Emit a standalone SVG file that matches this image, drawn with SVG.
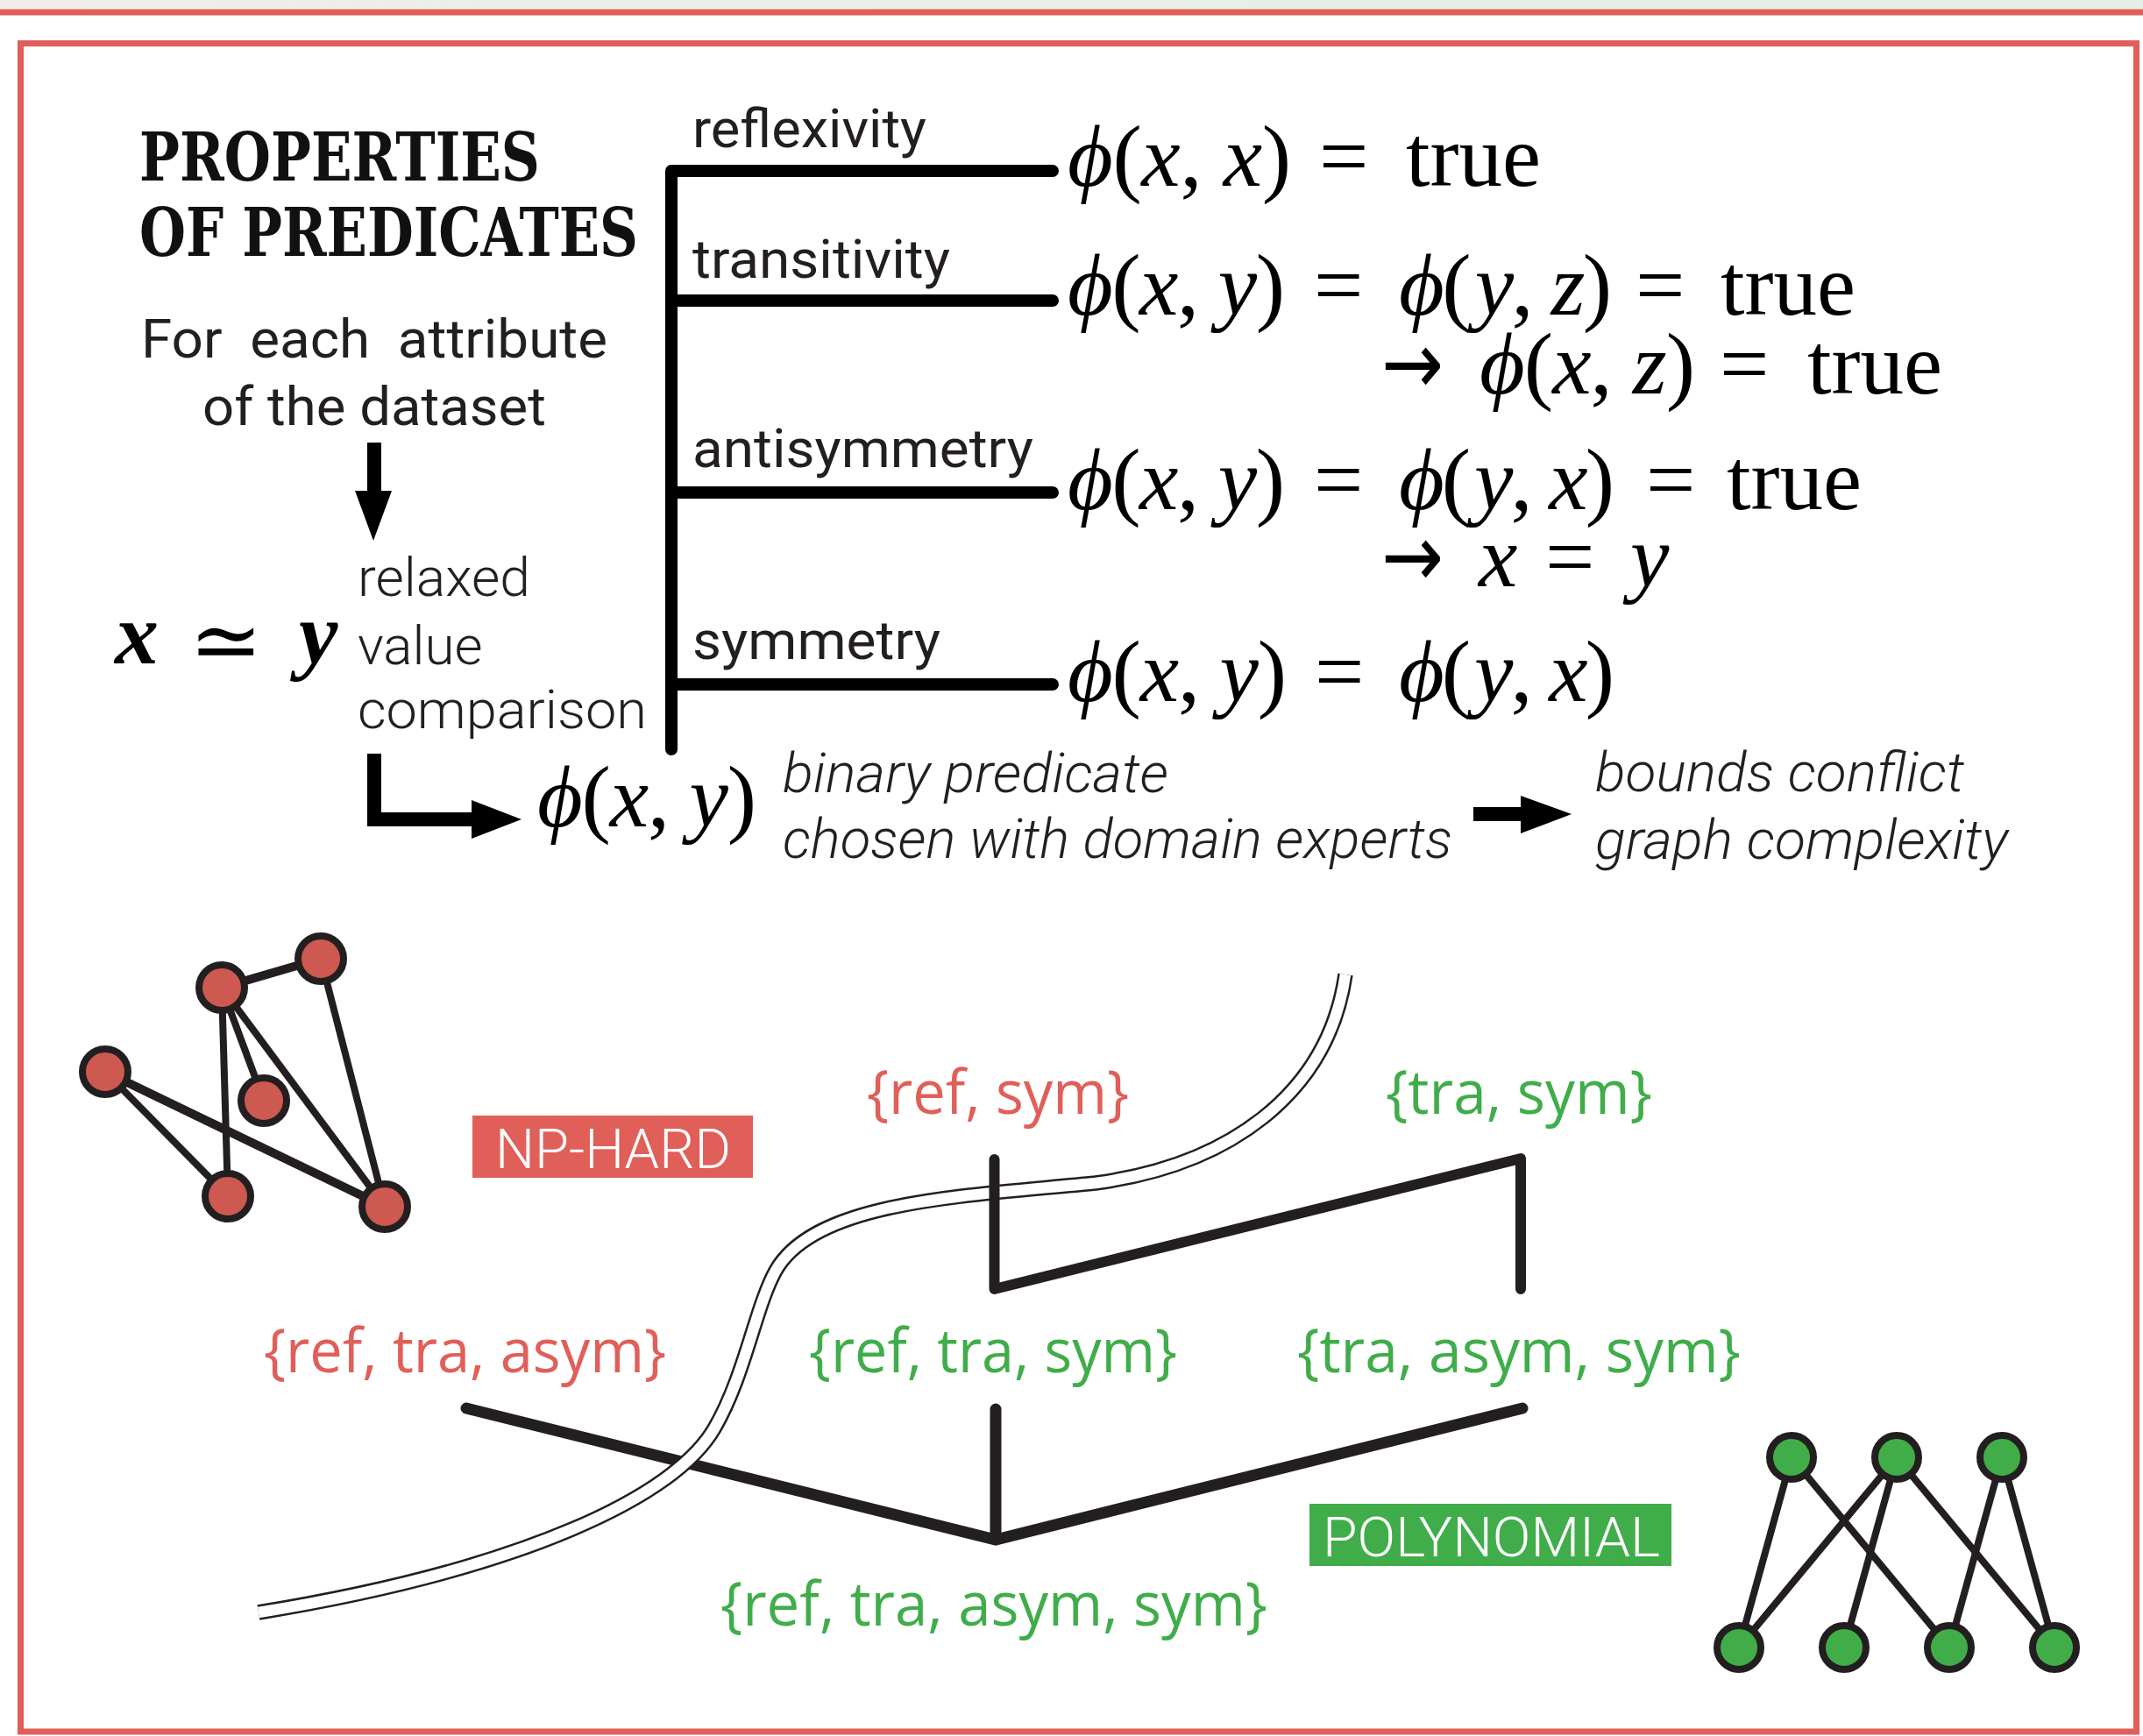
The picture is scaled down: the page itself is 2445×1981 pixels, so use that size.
<svg xmlns="http://www.w3.org/2000/svg" width="2445" height="1981" viewBox="0 0 2445 1981">
<defs>
<linearGradient id="band" x1="0" y1="0" x2="1" y2="0">
<stop offset="0" stop-color="#efeeea"/>
<stop offset="1" stop-color="#e2efe2"/>
</linearGradient>
<style>
.lbl{font-family:Roboto,"Liberation Sans",sans-serif;font-size:62px;fill:#231f20}
.lt{font-weight:300}
.it{font-style:italic;font-weight:300}
.ttl{font-family:"DejaVu Serif","Liberation Serif",serif;font-weight:bold;font-size:76px;fill:#111}
.m{font-family:"Liberation Serif","DejaVu Serif",serif;font-size:100px;fill:#000}
.mi{font-style:italic}
.arr{font-family:"DejaVu Sans",sans-serif;font-size:100px;fill:#000}
.set{font-family:"Open Sans","Noto Sans",sans-serif;font-size:70px}
.red{fill:#e05f58}
.green{fill:#40ad4a}
.tag{font-family:Roboto,"Liberation Sans",sans-serif;font-weight:300;font-size:63px;fill:#fff}
.br{stroke:#000;stroke-width:14;fill:none;stroke-linecap:round;stroke-linejoin:round}
.lat{stroke:#231f20;fill:none;stroke-linecap:round}
.edge{stroke:#231f20;stroke-width:8;fill:none}
.rn{fill:#cd5950;stroke:#231f20;stroke-width:8}
.gn{fill:#41ad49;stroke:#231f20;stroke-width:8}
</style>
</defs>
<rect x="0" y="0" width="2445" height="1981" fill="#fff"/>
<rect x="0" y="0" width="2445" height="10.5" fill="url(#band)"/>
<rect x="0" y="10.5" width="2445" height="7" fill="#e05f58"/>
<rect x="23.5" y="49.5" width="2414" height="1926.5" fill="none" stroke="#e05f58" stroke-width="7"/>

<g id="title">
<text class="ttl" x="159" y="206" textLength="457" lengthAdjust="spacingAndGlyphs">PROPERTIES</text>
<text class="ttl" x="159" y="292" textLength="569" lengthAdjust="spacingAndGlyphs">OF PREDICATES</text>
</g>

<g id="attribute-text">
<text class="lbl" x="161" y="408" textLength="532" lengthAdjust="spacingAndGlyphs" xml:space="preserve">For  each  attribute</text>
<text class="lbl" x="231" y="485" textLength="392" lengthAdjust="spacingAndGlyphs">of the dataset</text>
</g>

<g id="relaxed-comparison">
<text class="m mi" font-weight="bold" font-size="105" x="131" y="757">x</text>
<text x="216" y="765" font-family="DejaVu Serif,serif" font-size="100" fill="#000">≃</text>
<text class="m mi" font-weight="bold" font-size="105" x="341" y="757">y</text>
<text class="lbl lt" x="408" y="680" textLength="197" lengthAdjust="spacingAndGlyphs">relaxed</text>
<text class="lbl lt" x="408" y="758">value</text>
<text class="lbl lt" x="408" y="831" textLength="330" lengthAdjust="spacingAndGlyphs">comparison</text>
</g>

<g id="predicate">
<text class="m" x="613" y="943" textLength="250" lengthAdjust="spacing"><tspan class="mi">ϕ</tspan>(<tspan class="mi">x</tspan>, <tspan class="mi">y</tspan>)</text>
<text class="lbl it" x="893" y="904" textLength="440" lengthAdjust="spacingAndGlyphs">binary predicate</text>
<text class="lbl it" x="893" y="979" textLength="764" lengthAdjust="spacingAndGlyphs">chosen with domain experts</text>
</g>

<g id="bounds">
<text class="lbl it" x="1820" y="903" textLength="421" lengthAdjust="spacingAndGlyphs">bounds conflict</text>
<text class="lbl it" x="1820" y="980" textLength="471" lengthAdjust="spacingAndGlyphs">graph complexity</text>
</g>

<g id="property-labels">
<text class="lbl" x="790" y="168" textLength="267" lengthAdjust="spacingAndGlyphs">reflexivity</text>
<text class="lbl" x="790" y="317" textLength="294" lengthAdjust="spacingAndGlyphs">transitivity</text>
<text class="lbl" x="790" y="533" textLength="389" lengthAdjust="spacingAndGlyphs">antisymmetry</text>
<text class="lbl" x="790" y="752" textLength="283" lengthAdjust="spacingAndGlyphs">symmetry</text>
</g>

<g id="formula-reflexivity">
<text class="m" x="1218" y="212" textLength="255" lengthAdjust="spacing"><tspan class="mi">ϕ</tspan>(<tspan class="mi">x</tspan>, <tspan class="mi">x</tspan>)</text>
<text class="m" x="1505" y="212">=</text>
<text class="m" x="1604" y="212" textLength="154" lengthAdjust="spacingAndGlyphs">true</text>
</g>

<g id="formula-transitivity">
<text class="m" x="1218" y="359" textLength="248" lengthAdjust="spacing"><tspan class="mi">ϕ</tspan>(<tspan class="mi">x</tspan>, <tspan class="mi">y</tspan>)</text>
<text class="m" x="1499" y="359">=</text>
<text class="m" x="1596" y="359" textLength="243" lengthAdjust="spacing"><tspan class="mi">ϕ</tspan>(<tspan class="mi" dx="7">y</tspan>, <tspan class="mi">z</tspan>)</text>
<text class="m" x="1866" y="359">=</text>
<text class="m" x="1963" y="359" textLength="154" lengthAdjust="spacingAndGlyphs">true</text>
<text class="arr" x="1576" y="449" textLength="71" lengthAdjust="spacingAndGlyphs">→</text>
<text class="m" x="1688" y="449" textLength="246" lengthAdjust="spacing"><tspan class="mi">ϕ</tspan>(<tspan class="mi">x</tspan>, <tspan class="mi">z</tspan>)</text>
<text class="m" x="1962" y="449">=</text>
<text class="m" x="2062" y="449" textLength="154" lengthAdjust="spacingAndGlyphs">true</text>
</g>

<g id="formula-antisymmetry">
<text class="m" x="1218" y="581" textLength="248" lengthAdjust="spacing"><tspan class="mi">ϕ</tspan>(<tspan class="mi">x</tspan>, <tspan class="mi">y</tspan>)</text>
<text class="m" x="1499" y="581">=</text>
<text class="m" x="1596" y="581" textLength="246" lengthAdjust="spacing"><tspan class="mi">ϕ</tspan>(<tspan class="mi" dx="7">y</tspan>, <tspan class="mi">x</tspan>)</text>
<text class="m" x="1878" y="581">=</text>
<text class="m" x="1970" y="581" textLength="154" lengthAdjust="spacingAndGlyphs">true</text>
<text class="arr" x="1576" y="669" textLength="71" lengthAdjust="spacingAndGlyphs">→</text>
<text class="m mi" x="1687" y="669">x</text>
<text class="m" x="1763" y="669">=</text>
<text class="m mi" x="1860" y="669">y</text>
</g>

<g id="formula-symmetry">
<text class="m" x="1218" y="800" textLength="250" lengthAdjust="spacing"><tspan class="mi">ϕ</tspan>(<tspan class="mi">x</tspan>, <tspan class="mi">y</tspan>)</text>
<text class="m" x="1500" y="800">=</text>
<text class="m" x="1596" y="800" textLength="246" lengthAdjust="spacing"><tspan class="mi">ϕ</tspan>(<tspan class="mi" dx="7">y</tspan>, <tspan class="mi">x</tspan>)</text>
</g>

<g id="np-hard">
<rect x="539" y="1273" width="320" height="71" fill="#e05f58"/>
<text class="tag" x="565" y="1333" textLength="269" lengthAdjust="spacingAndGlyphs">NP-HARD</text>
</g>
<g id="polynomial">
<rect x="1494" y="1716" width="413" height="71" fill="#40ad4a"/>
<text class="tag" x="1509" y="1776" textLength="385" lengthAdjust="spacingAndGlyphs">POLYNOMIAL</text>
</g>

<g id="set-ref-sym"><text class="set red" x="989" y="1271" textLength="299" lengthAdjust="spacingAndGlyphs">{ref, sym}</text></g>
<g id="set-tra-sym"><text class="set green" x="1581" y="1271" textLength="304" lengthAdjust="spacingAndGlyphs">{tra, sym}</text></g>
<g id="set-ref-tra-asym"><text class="set red" x="301" y="1566" textLength="459" lengthAdjust="spacingAndGlyphs">{ref, tra, asym}</text></g>
<g id="set-ref-tra-sym"><text class="set green" x="923" y="1566" textLength="420" lengthAdjust="spacingAndGlyphs">{ref, tra, sym}</text></g>
<g id="set-tra-asym-sym"><text class="set green" x="1480" y="1566" textLength="506" lengthAdjust="spacingAndGlyphs">{tra, asym, sym}</text></g>
<g id="set-all"><text class="set green" x="822" y="1855" textLength="624" lengthAdjust="spacingAndGlyphs">{ref, tra, asym, sym}</text></g>

<g id="connectors">
<path class="br" d="M1201 195 H766 V855"/>
<path class="br" d="M766 343 H1201 M766 562 H1201 M766 781 H1201"/>
<rect x="419" y="505" width="16" height="58" fill="#000"/>
<polygon points="405,560 447,560 426,617" fill="#000"/>
<polygon points="419,860 435,860 435,927 540,927 540,943 419,943" fill="#000"/>
<polygon points="538,913 595,935 538,957" fill="#000"/>
<rect x="1681" y="921" width="56" height="16" fill="#000"/>
<polygon points="1735,908 1793,929 1735,951" fill="#000"/>
<g id="lattice-lower">
<polyline class="lat" stroke-width="13" stroke-linejoin="miter" points="532,1607 1136,1757 1737,1607"/>
<line class="lat" stroke-width="13" x1="1136" y1="1608" x2="1136" y2="1752"/>
</g>
<g id="boundary">
<path d="M1535 1112 C1515 1250 1400 1330 1250 1350 C1100 1365 930 1370 885 1450 C862 1491 850 1570 815 1630 C770 1707 600 1790 295 1840" fill="none" stroke="#231f20" stroke-width="17.5"/>
<path d="M1535 1112 C1515 1250 1400 1330 1250 1350 C1100 1365 930 1370 885 1450 C862 1491 850 1570 815 1630 C770 1707 600 1790 295 1840" fill="none" stroke="#fff" stroke-width="12.5"/>
</g>
<polyline id="lattice-upper" class="lat" stroke-width="12" stroke-linejoin="round" points="1134.5,1323 1134.5,1471 1735,1322 1735,1471"/>
</g>

<g id="np-graph">
<g class="edge">
<line x1="253" y1="1127" x2="366" y2="1094" stroke-width="10"/>
<line x1="253" y1="1127" x2="260" y2="1365"/>
<line x1="253" y1="1127" x2="301" y2="1256"/>
<line x1="253" y1="1127" x2="439" y2="1377"/>
<line x1="366" y1="1094" x2="439" y2="1377"/>
<line x1="120" y1="1223" x2="260" y2="1365"/>
<line x1="120" y1="1223" x2="439" y2="1377" stroke-width="10"/>
</g>
<circle class="rn" cx="253" cy="1127" r="26"/>
<circle class="rn" cx="366" cy="1094" r="26"/>
<circle class="rn" cx="120" cy="1223" r="26"/>
<circle class="rn" cx="301" cy="1256" r="26"/>
<circle class="rn" cx="260" cy="1365" r="26"/>
<circle class="rn" cx="439" cy="1377" r="26"/>
</g>

<g id="poly-graph">
<g class="edge">
<line x1="2044" y1="1663" x2="1984" y2="1880"/>
<line x1="2044" y1="1663" x2="2224" y2="1880"/>
<line x1="2164" y1="1663" x2="1984" y2="1880"/>
<line x1="2164" y1="1663" x2="2104" y2="1880"/>
<line x1="2164" y1="1663" x2="2344" y2="1880"/>
<line x1="2284" y1="1663" x2="2224" y2="1880"/>
<line x1="2284" y1="1663" x2="2344" y2="1880"/>
</g>
<circle class="gn" cx="2044" cy="1663" r="25"/>
<circle class="gn" cx="2164" cy="1663" r="25"/>
<circle class="gn" cx="2284" cy="1663" r="25"/>
<circle class="gn" cx="1984" cy="1880" r="25"/>
<circle class="gn" cx="2104" cy="1880" r="25"/>
<circle class="gn" cx="2224" cy="1880" r="25"/>
<circle class="gn" cx="2344" cy="1880" r="25"/>
</g>
</svg>
